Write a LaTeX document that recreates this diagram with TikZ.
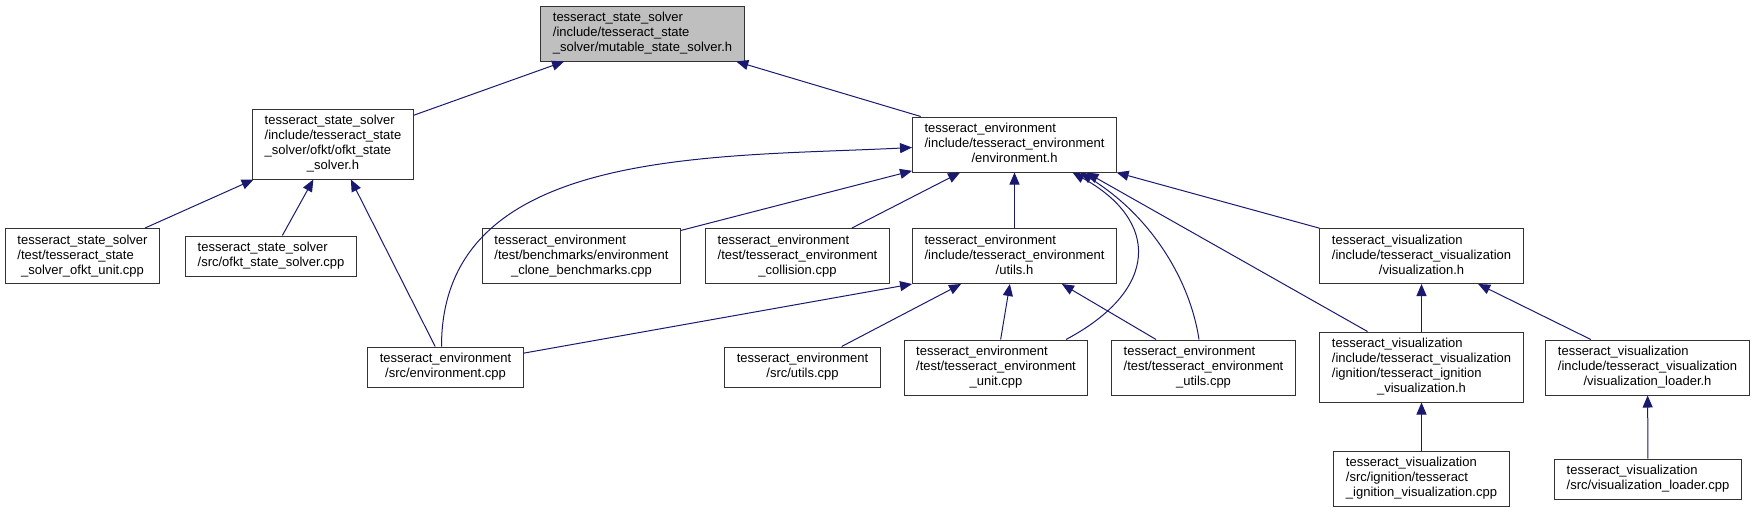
\documentclass[tikz,border=0pt]{standalone}
\usepackage{fontspec}
\setmainfont{Liberation Sans}
\usetikzlibrary{arrows.meta}
\definecolor{edgeblue}{RGB}{25,25,112}
\definecolor{headgray}{RGB}{191,191,191}
\newcommand{\flines}[2]{\begin{tabular}{@{}l@{}}#1\\\multicolumn{1}{@{}c@{}}{#2}\end{tabular}}

\begin{document}
\begin{tikzpicture}[x=1pt,y=1pt,>={Triangle[length=12pt,width=10pt]},
  filebox/.style={draw=black!80, line width=1pt, inner xsep=12pt, inner ysep=5pt, font=\fontsize{13}{15}\selectfont},
  dep/.style={->, edgeblue, line width=1pt}]
\useasboundingbox (0,0) rectangle (1755,-512);
\node (mss) [filebox, fill=headgray] at (642.5,-33.5) {\flines{tesseract\_state\_solver\\/include/tesseract\_state}{\_solver/mutable\_state\_solver.h}};
\node (ofkt) [filebox] at (333,-144) {\flines{tesseract\_state\_solver\\/include/tesseract\_state\\\_solver/ofkt/ofkt\_state}{\_solver.h}};
\node (ofktunit) [filebox] at (82.5,-256) {\flines{tesseract\_state\_solver\\/test/tesseract\_state}{\_solver\_ofkt\_unit.cpp}};
\node (ofktsrc) [filebox] at (271,-256) {\flines{tesseract\_state\_solver}{/src/ofkt\_state\_solver.cpp}};
\node (envcpp) [filebox] at (445.5,-367) {\flines{tesseract\_environment}{/src/environment.cpp}};
\node (envh) [filebox] at (1014.5,-144.5) {\flines{tesseract\_environment\\/include/tesseract\_environment}{/environment.h}};
\node (bench) [filebox] at (581.5,-256) {\flines{tesseract\_environment\\/test/benchmarks/environment}{\_clone\_benchmarks.cpp}};
\node (coll) [filebox] at (797.5,-256) {\flines{tesseract\_environment\\/test/tesseract\_environment}{\_collision.cpp}};
\node (utilsh) [filebox] at (1014.5,-256) {\flines{tesseract\_environment\\/include/tesseract\_environment}{/utils.h}};
\node (vizh) [filebox] at (1421.5,-256) {\flines{tesseract\_visualization\\/include/tesseract\_visualization}{/visualization.h}};
\node (utilscpp) [filebox] at (802.5,-367) {\flines{tesseract\_environment}{/src/utils.cpp}};
\node (envunit) [filebox] at (996,-367.5) {\flines{tesseract\_environment\\/test/tesseract\_environment}{\_unit.cpp}};
\node (envutils) [filebox] at (1203.5,-367.5) {\flines{tesseract\_environment\\/test/tesseract\_environment}{\_utils.cpp}};
\node (ignh) [filebox] at (1421.5,-367) {\flines{tesseract\_visualization\\/include/tesseract\_visualization\\/ignition/tesseract\_ignition}{\_visualization.h}};
\node (loaderh) [filebox] at (1647.5,-367.5) {\flines{tesseract\_visualization\\/include/tesseract\_visualization}{/visualization\_loader.h}};
\node (igncpp) [filebox] at (1421.5,-478.5) {\flines{tesseract\_visualization\\/src/ignition/tesseract}{\_ignition\_visualization.cpp}};
\node (loadercpp) [filebox] at (1648,-479) {\flines{tesseract\_visualization}{/src/visualization\_loader.cpp}};
% includes of mutable_state_solver.h
\draw[dep] (ofkt) -- (mss);
\draw[dep] (envh) -- (mss);
\draw[dep] (ofktunit) -- (ofkt);
\draw[dep] (ofktsrc) -- (ofkt);
\draw[dep] (envcpp) -- (ofkt);
% includes of environment.h
\draw[dep] ([xshift=-4pt]envcpp.north) .. controls +(0,200) and +(-200,-10) .. ([yshift=-3pt]envh.west);
\draw[dep] (bench) -- (envh);
\draw[dep] (coll) -- (envh);
\draw[dep] (utilsh) -- (envh);
\draw[dep] ([xshift=70pt]envunit.north) .. controls +(94,50) and +(87,-48) .. ([xshift=58pt]envh.south);
\draw[dep] ([xshift=-4.5pt]envutils.north) .. controls +(-9,60) and +(70,-43) .. ([xshift=66pt]envh.south);
\draw[dep] ([xshift=-54pt]ignh.north) -- ([xshift=72pt]envh.south);
\draw[dep] (vizh) -- (envh);
% includes of utils.h
\draw[dep] (envcpp) -- (utilsh.south west);
\draw[dep] (utilscpp) -- (utilsh);
\draw[dep] (envunit) -- (utilsh);
\draw[dep] (envutils) -- (utilsh);
% visualization
\draw[dep] (ignh) -- (vizh);
\draw[dep] (loaderh) -- (vizh);
\draw[dep] (igncpp) -- (ignh);
\draw[dep] (loadercpp) -- (loaderh);
\end{tikzpicture}
\end{document}
